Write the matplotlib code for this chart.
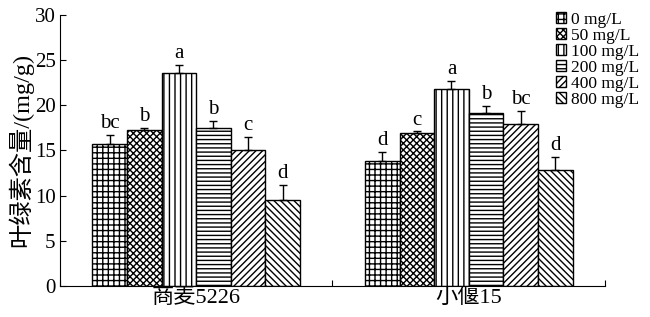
import matplotlib.pyplot as plt
import numpy as np

plt.rcParams['font.family'] = ['Liberation Serif', 'Noto Sans CJK SC']
plt.rcParams['hatch.linewidth'] = 1.0

cultivars = ["商麦5226", "小偃15"]
doses = ["0 mg/L", "50 mg/L", "100 mg/L", "200 mg/L", "400 mg/L", "800 mg/L"]

# chlorophyll per dose: [商麦5226, 小偃15]
means = [
    [15.7, 13.8],
    [17.3, 16.9],
    [23.6, 21.8],
    [17.5, 19.1],
    [15.0, 17.9],
    [9.5, 12.8],
]
errs = [
    [1.0, 1.0],
    [0.2, 0.2],
    [0.9, 0.9],
    [0.8, 0.8],
    [1.5, 1.5],
    [1.7, 1.5],
]
letters = [
    ["bc", "d"],
    ["b", "c"],
    ["a", "a"],
    ["b", "b"],
    ["c", "bc"],
    ["d", "d"],
]
hatches = ["+++", "xxxxx", "|||", "----", "/////", "\\\\\\\\\\"]

fig = plt.figure(figsize=(6.5, 3.17), dpi=100)
ax = fig.add_axes([0.092, 0.098, 0.839, 0.855])

width = 0.127
centers = np.array([0.5, 1.5])
for i in range(len(doses)):
    x = centers + (i - 2.5) * width
    ax.bar(x, means[i], width, color="white", edgecolor="black", linewidth=1.0,
           hatch=hatches[i], label=doses[i], zorder=2)
    ax.errorbar(x, means[i], yerr=[np.zeros(2), errs[i]], fmt="none", ecolor="black",
                elinewidth=1.0, capsize=3, capthick=1.0, zorder=3)
    for j in range(2):
        ax.text(x[j], means[i][j] + errs[i][j] + 0.2, letters[i][j], ha="center",
                va="bottom", fontsize=15)

ax.set_xlim(0, 2)
ax.set_ylim(0, 30)
ax.set_yticks(range(0, 31, 5))
ax.set_xticks([0, 1, 2])
ax.set_xticklabels([])
ax.set_xticks(centers, minor=True)
ax.set_xticklabels(cultivars, minor=True, fontsize=16)
ax.tick_params(axis="x", which="minor", length=0, pad=1)
ax.tick_params(axis="x", which="major", direction="in", length=4)
ax.tick_params(axis="y", direction="in", length=4, labelsize=15, pad=3)
ax.spines["top"].set_visible(False)
ax.spines["right"].set_visible(False)
ax.set_ylabel("叶绿素含量/(mg/g)", fontsize=17.5, labelpad=1)

ax.legend(loc="upper right", bbox_to_anchor=(1.0, 0.995), bbox_transform=fig.transFigure,
          frameon=False, fontsize=12.5, handlelength=0.6, handleheight=0.6,
          handletextpad=0.3, labelspacing=0.0, borderpad=0.1)

fig.savefig("out.png", dpi=100)
